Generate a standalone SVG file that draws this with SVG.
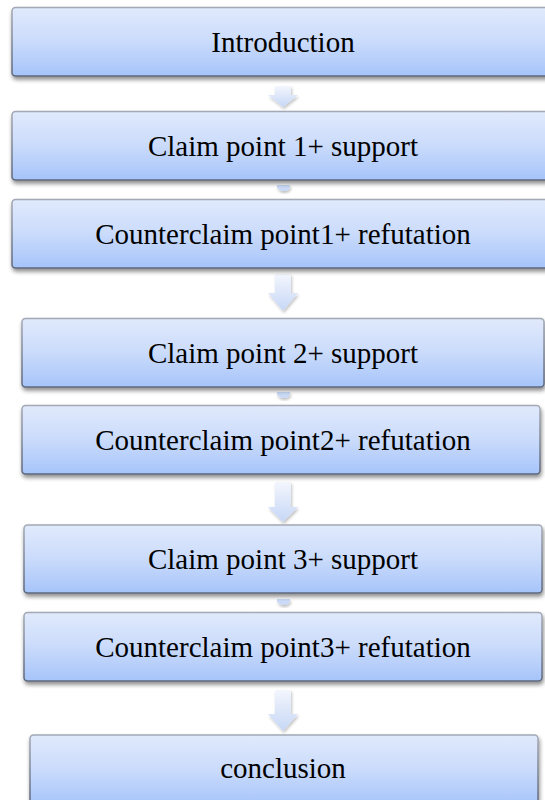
<svg xmlns="http://www.w3.org/2000/svg" width="545" height="800" viewBox="0 0 545 800">
  <defs>
    <linearGradient id="boxFill" x1="0" y1="0" x2="0" y2="1">
      <stop offset="0" stop-color="#e1eafc"/>
      <stop offset="0.5" stop-color="#cadbfb"/>
      <stop offset="1" stop-color="#a6c4fa"/>
    </linearGradient>
    <linearGradient id="boxStroke" x1="0" y1="0" x2="0" y2="1">
      <stop offset="0" stop-color="#a3a9b5"/>
      <stop offset="1" stop-color="#5d677b"/>
    </linearGradient>
    <linearGradient id="arrowFill" x1="0" y1="0" x2="0" y2="1">
      <stop offset="0" stop-color="#f3f6fd"/>
      <stop offset="1" stop-color="#c6d7f6"/>
    </linearGradient>
    <filter id="shadow" x="-5%" y="-20%" width="110%" height="150%">
      <feGaussianBlur in="SourceAlpha" stdDeviation="2"/>
      <feOffset dx="1" dy="3" result="b"/>
      <feComponentTransfer><feFuncA type="linear" slope="0.45"/></feComponentTransfer>
      <feMerge><feMergeNode/><feMergeNode in="SourceGraphic"/></feMerge>
    </filter>
    <filter id="arrowShadow" x="-30%" y="-30%" width="160%" height="170%">
      <feGaussianBlur in="SourceAlpha" stdDeviation="1.5"/>
      <feOffset dx="1" dy="2" result="b"/>
      <feComponentTransfer><feFuncA type="linear" slope="0.25"/></feComponentTransfer>
      <feMerge><feMergeNode/><feMergeNode in="SourceGraphic"/></feMerge>
    </filter>
  </defs>
  <style>
    .box { fill: url(#boxFill); stroke: url(#boxStroke); stroke-width: 1.5; filter: url(#shadow); }
    .lbl { font-family: "Liberation Serif", "Times New Roman", serif; font-size: 29px; fill: #000; text-anchor: middle; }
    .arrow { fill: url(#arrowFill); filter: url(#arrowShadow); }
    .stub { fill: #c9d9f6; filter: url(#arrowShadow); }
  </style>

  <!-- connectors -->
  <g id="connectors">
    <path class="arrow" d="M275,86 H291 V95 H298 L283,107 L268,95 H275 Z"/>
    <path class="stub" d="M277,185 H290 V188 L286,191 H281 L277,188 Z"/>
    <path class="arrow" d="M275,274 H291 V293 H298 L283,311 L268,293 H275 Z"/>
    <path class="stub" d="M277,392 H290 V395 L286,398 H281 L277,395 Z"/>
    <path class="arrow" d="M275,482 H291 V507 H298 L283,522 L268,507 H275 Z"/>
    <path class="stub" d="M277,599 H290 V602 L286,605 H281 L277,602 Z"/>
    <path class="arrow" d="M275,690 H291 V714 H298 L283,731 L268,714 H275 Z"/>
  </g>

  <g id="introduction">
    <rect class="box" x="12" y="7.5" width="541" height="68.5" rx="3.5"/>
    <text class="lbl" x="283" y="51.5">Introduction</text>
  </g>
  <g id="claim1">
    <rect class="box" x="12" y="111.5" width="541" height="68.5" rx="3.5"/>
    <text class="lbl" x="283" y="155.5">Claim point 1+ support</text>
  </g>
  <g id="counter1">
    <rect class="box" x="12" y="199.5" width="541" height="68.5" rx="3.5"/>
    <text class="lbl" x="283" y="243.5">Counterclaim point1+ refutation</text>
  </g>
  <g id="claim2">
    <rect class="box" x="22" y="318.5" width="522" height="68.5" rx="3.5"/>
    <text class="lbl" x="283" y="362.5">Claim point 2+ support</text>
  </g>
  <g id="counter2">
    <rect class="box" x="22" y="405.5" width="518" height="68.5" rx="3.5"/>
    <text class="lbl" x="283" y="449.5">Counterclaim point2+ refutation</text>
  </g>
  <g id="claim3">
    <rect class="box" x="24" y="525" width="518" height="68" rx="3.5"/>
    <text class="lbl" x="283" y="569">Claim point 3+ support</text>
  </g>
  <g id="counter3">
    <rect class="box" x="24" y="612.5" width="518" height="68.5" rx="3.5"/>
    <text class="lbl" x="283" y="656.5">Counterclaim point3+ refutation</text>
  </g>
  <g id="conclusion">
    <rect class="box" x="30" y="735" width="508" height="70" rx="3.5"/>
    <text class="lbl" x="283" y="778">conclusion</text>
  </g>
</svg>
